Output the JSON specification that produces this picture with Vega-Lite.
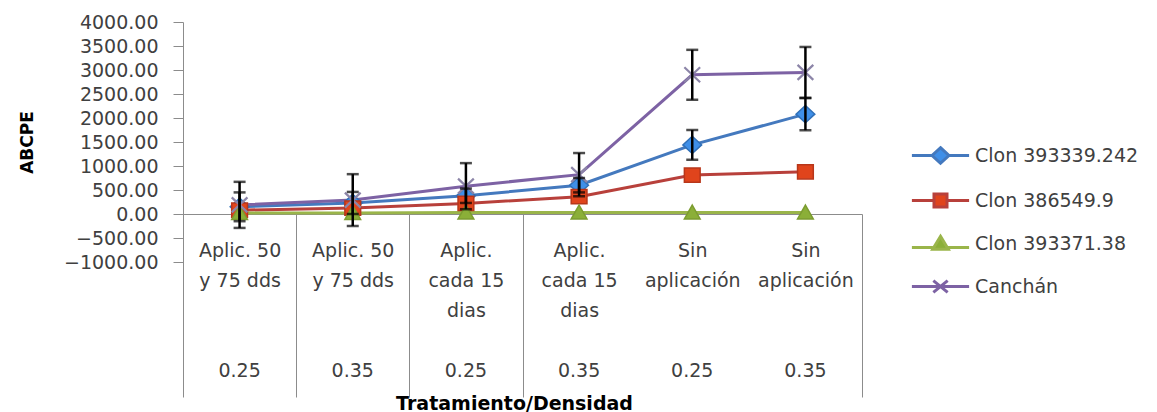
{
  "$schema": "https://vega.github.io/schema/vega-lite/v6.json",
  "width": 679,
  "height": 240,
  "autosize": {"type": "none"},
  "padding": {"left": 183, "top": 22, "right": 295, "bottom": 150},
  "background": "white",
  "config": {
    "view": {"stroke": null},
    "font": "DejaVu Sans",
    "axis": {"labelFont": "DejaVu Sans", "labelColor": "#404040", "domainColor": "#8c8c8c", "tickColor": "#8c8c8c", "titleColor": "#000000", "titleFont": "DejaVu Sans"}
  },
  "data": {
    "values": [
      {"serie": "Clon 393339.242", "grupo": "Aplic. 50|y 75 dds|0.25", "v": 150, "err": 300},
      {"serie": "Clon 393339.242", "grupo": "Aplic. 50|y 75 dds|0.35", "v": 230, "err": 230},
      {"serie": "Clon 393339.242", "grupo": "Aplic.|cada 15|dias|0.25", "v": 380, "err": 150},
      {"serie": "Clon 393339.242", "grupo": "Aplic.|cada 15|dias|0.35", "v": 600, "err": 150},
      {"serie": "Clon 393339.242", "grupo": "Sin|aplicación|0.25", "v": 1440, "err": 310},
      {"serie": "Clon 393339.242", "grupo": "Sin|aplicación|0.35", "v": 2080, "err": 335},
      {"serie": "Clon 386549.9", "grupo": "Aplic. 50|y 75 dds|0.25", "v": 80},
      {"serie": "Clon 386549.9", "grupo": "Aplic. 50|y 75 dds|0.35", "v": 125},
      {"serie": "Clon 386549.9", "grupo": "Aplic.|cada 15|dias|0.25", "v": 220},
      {"serie": "Clon 386549.9", "grupo": "Aplic.|cada 15|dias|0.35", "v": 360},
      {"serie": "Clon 386549.9", "grupo": "Sin|aplicación|0.25", "v": 810},
      {"serie": "Clon 386549.9", "grupo": "Sin|aplicación|0.35", "v": 880},
      {"serie": "Clon 393371.38", "grupo": "Aplic. 50|y 75 dds|0.25", "v": 20},
      {"serie": "Clon 393371.38", "grupo": "Aplic. 50|y 75 dds|0.35", "v": 20},
      {"serie": "Clon 393371.38", "grupo": "Aplic.|cada 15|dias|0.25", "v": 30},
      {"serie": "Clon 393371.38", "grupo": "Aplic.|cada 15|dias|0.35", "v": 30},
      {"serie": "Clon 393371.38", "grupo": "Sin|aplicación|0.25", "v": 30},
      {"serie": "Clon 393371.38", "grupo": "Sin|aplicación|0.35", "v": 30},
      {"serie": "Canchán", "grupo": "Aplic. 50|y 75 dds|0.25", "v": 190, "err": 480},
      {"serie": "Canchán", "grupo": "Aplic. 50|y 75 dds|0.35", "v": 290, "err": 540},
      {"serie": "Canchán", "grupo": "Aplic.|cada 15|dias|0.25", "v": 580, "err": 480},
      {"serie": "Canchán", "grupo": "Aplic.|cada 15|dias|0.35", "v": 820, "err": 450},
      {"serie": "Canchán", "grupo": "Sin|aplicación|0.25", "v": 2900, "err": 520},
      {"serie": "Canchán", "grupo": "Sin|aplicación|0.35", "v": 2950, "err": 530}
    ]
  },
  "encoding": {
    "x": {
      "field": "grupo", "type": "nominal", "sort": null,
      "scale": {"type": "band", "paddingInner": 0, "paddingOuter": 0},
      "axis": null
    },
    "y": {
      "field": "v", "type": "quantitative",
      "scale": {"domain": [-1000, 4000], "nice": false, "zero": false},
      "axis": {
        "values": [-1000, -500, 0, 500, 1000, 1500, 2000, 2500, 3000, 3500, 4000],
        "format": ".2f",
        "grid": false,
        "tickSize": 10,
        "labelPadding": 15,
        "labelFontSize": 19,
        "labelBaseline": "middle",
        "title": "ABCPE",
        "titleFontSize": 17,
        "titleFontWeight": "bold",
        "titleX": -156,
        "titleY": 120,
        "titleAngle": 270,
        "titleBaseline": "middle",
        "titleAlign": "center"
      }
    }
  },
  "resolve": {"axis": {"x": "independent"}},
  "layer": [
    {
      "mark": {"type": "line", "strokeWidth": 3},
      "encoding": {
        "x": {
          "field": "grupo", "type": "nominal", "sort": null,
          "scale": {"type": "band", "paddingInner": 0, "paddingOuter": 0},
          "axis": {
            "orient": "bottom",
            "offset": -48,
            "tickBand": "extent",
            "tickSize": 183,
            "tickWidth": 1,
            "tickOpacity": {"condition": {"test": "datum.value === 'Aplic.|cada 15|dias|0.35' || datum.value === 'Sin|aplicación|0.25'", "value": 0}, "value": 1},
            "labelExpr": "slice(split(datum.label, '|'), 0, -1)",
            "labelFontSize": 19,
            "labelLineHeight": 30,
            "labelBaseline": "top",
            "labelAlign": "center",
            "labelAngle": 0,
            "labelPadding": -156,
            "labelOverlap": false,
            "labelBound": false,
            "labelFlush": false,
            "labelLimit": 400,
            "title": "Tratamiento/Densidad",
            "titleFontSize": 19,
            "titleFontWeight": "bold",
            "titleX": 331,
            "titleY": 189,
            "titleBaseline": "middle",
            "titleAlign": "center",
            "titleAnchor": null
          }
        },
        "color": {
          "field": "serie", "type": "nominal",
          "scale": {"domain": ["Clon 393339.242", "Clon 386549.9", "Clon 393371.38", "Canchán"], "range": ["#4479BE", "#B8403B", "#9AB54A", "#7D62A4"]},
          "legend": {
            "title": null,
            "orient": "none",
            "legendX": 743,
            "legendY": 119,
            "padding": 0,
            "symbolSize": 676,
            "symbolStrokeWidth": 3,
            "rowPadding": 16,
            "labelOffset": 20,
            "labelFontSize": 19,
            "labelFont": "DejaVu Sans",
            "labelColor": "#404040",
            "labelLimit": 400,
            "encoding": {
              "symbols": {
                "shape": {"value": {"expr": "datum.value === 'Clon 393339.242' ? 'M-2.2,0L-0.65,0M0.65,0L2.2,0M0,-0.6L0.65,0L0,0.6L-0.65,0Z' : datum.value === 'Clon 386549.9' ? 'M-2.2,0L-0.5,0M0.5,0L2.2,0M-0.5,-0.5L0.5,-0.5L0.5,0.5L-0.5,0.5Z' : datum.value === 'Clon 393371.38' ? 'M-2.2,0.3L-0.6,0.3M0.6,0.3L2.2,0.3M0,-0.55L0.6,0.45L-0.6,0.45Z' : 'M-2.2,0L2.2,0M-0.55,-0.45L0.55,0.45M-0.55,0.45L0.55,-0.45'"}},
                "fill": {"value": {"expr": "datum.value === 'Clon 393339.242' ? '#3F8FE8' : datum.value === 'Clon 386549.9' ? '#E0441C' : datum.value === 'Clon 393371.38' ? '#8BAF38' : 'transparent'"}},
                "strokeWidth": {"value": 3}
              }
            }
          }
        }
      }
    },
    {
      "transform": [{"filter": "datum.serie === 'Clon 393339.242'"}],
      "mark": {"type": "point", "filled": true, "size": 225, "strokeWidth": 1.5, "opacity": 1, "shape": "M0,-1.15L1.25,0L0,1.15L-1.25,0Z", "fill": "#3F8FE8", "stroke": "#3070B8"}
    },
    {
      "transform": [{"filter": "datum.serie === 'Clon 386549.9'"}],
      "mark": {"type": "point", "filled": true, "size": 225, "strokeWidth": 1.5, "opacity": 1, "shape": "M-1.05,-0.95L1.05,-0.95L1.05,0.95L-1.05,0.95Z", "fill": "#E0441C", "stroke": "#B8361A"}
    },
    {
      "transform": [{"filter": "datum.serie === 'Clon 393371.38'"}],
      "mark": {"type": "point", "filled": true, "size": 225, "strokeWidth": 1.5, "opacity": 1, "shape": "M0,-1L1.05,0.85L-1.05,0.85Z", "fill": "#8BAF38", "stroke": "#7C9C30"},
      "encoding": {
        "x": {
          "field": "grupo", "type": "nominal", "sort": null,
          "scale": {"type": "band", "paddingInner": 0, "paddingOuter": 0},
          "axis": {
            "orient": "bottom",
            "offset": -48,
            "domain": false,
            "ticks": false,
            "labelExpr": "peek(split(datum.label, '|'))",
            "labelFontSize": 19,
            "labelBaseline": "top",
            "labelAlign": "center",
            "labelAngle": 0,
            "labelPadding": 147,
            "labelOverlap": false,
            "labelBound": false,
            "labelFlush": false,
            "title": null
          }
        }
      }
    },
    {
      "transform": [{"filter": "datum.serie === 'Canchán'"}],
      "mark": {"type": "point", "filled": false, "size": 225, "strokeWidth": 2.2, "opacity": 1, "shape": "M-1.05,-1L1.05,1M-1.05,1L1.05,-1", "stroke": "#8C85A8"}
    },
    {
      "transform": [{"filter": "isValid(datum.err)"}],
      "mark": {"type": "errorbar", "color": "black", "ticks": {"size": 12, "thickness": 2.5, "color": "black"}, "rule": {"strokeWidth": 2.5, "color": "black"}},
      "encoding": {
        "yError": {"field": "err"}
      }
    }
  ]
}
